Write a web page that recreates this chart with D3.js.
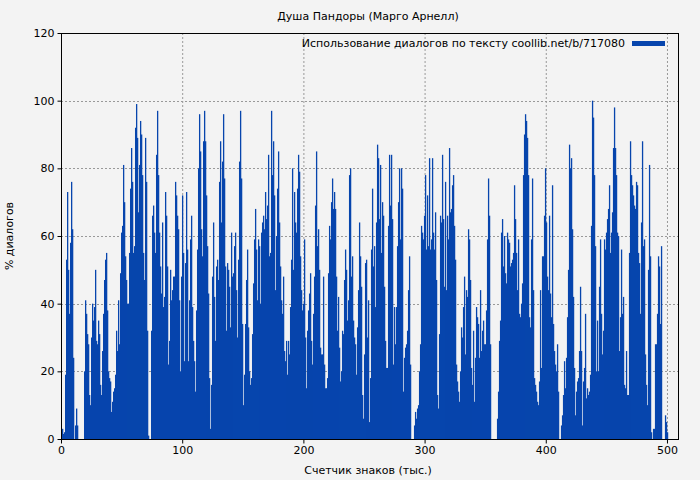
<!DOCTYPE html>
<html><head><meta charset="utf-8">
<script src="https://cdn.jsdelivr.net/npm/d3@7"></script>
<style>body{margin:0;background:#f3f3f3;font-family:"DejaVu Sans",sans-serif}</style>
</head><body><svg id="c" width="700" height="480"></svg>
<script>
const title = "Душа Пандоры (Марго Арнелл)";
const legendLabel = "Использование диалогов по тексту coollib.net/b/717080";
const xLabel = "Счетчик знаков (тыс.)";
const yLabel = "% диалогов";
const xTicks = [0,100,200,300,400,500];
const yTicks = [0,20,40,60,80,100,120];
const xStep = 0.825; // thousand chars per bar
const values = [3,3,1.5,2,19,53,73,50,37,58,76,62,24,0,4,9,4,0,0,0,0,0,0,
20,41,37,31,28,13,10,30,40,35,39,50,29,28,35,31,16,13,26,37,47,53,55,38,20,18,17,8,11,14,15,19,32,26,41,28,49,61,63,81,70,54,47,40,40,55,74,86,76,55,57,92,99,89,67,81,94,90,78,55,47,89,76,32,1,0,0,32,66,69,61,55,84,97,78,61,51,43,64,39,42,
73,66,51,22,29,50,41,44,48,48,76,72,66,62,41,20,48,72,55,23,52,73,56,23,41,59,66,39,29,23,14,38,56,80,96,85,62,54,88,97,88,72,57,43,18,3,16,48,64,42,29,51,53,47,76,88,64,82,96,77,51,32,52,50,45,33,61,48,49,57,61,44,30,53,82,97,77,34,10,19,34,47,56,33,20,16,18,31,46,59,68,56,41,59,57,40,61,64,66,62,73,65,
69,84,54,55,97,78,88,72,44,60,74,85,64,51,41,37,48,26,23,29,19,29,25,39,53,80,50,73,64,61,74,84,79,54,44,38,40,59,30,15,32,38,43,49,29,22,37,48,69,85,57,62,50,27,25,25,48,22,15,15,18,49,63,59,70,77,68,73,68,48,32,42,27,17,20,32,31,47,56,50,35,41,78,80,48,54,35,30,28,19,33,44,64,54,45,13,6,25,52,53,30,41,
5,18,56,74,51,57,39,64,87,83,65,81,55,70,66,45,29,21,21,63,84,69,84,65,22,39,28,39,57,70,80,59,80,74,14,24,27,28,32,44,54,22,0,0,0,4,8,6,9,10,20,28,63,61,59,66,78,56,72,57,83,56,59,83,61,56,67,47,13,9,31,66,64,84,65,45,76,44,66,59,86,67,68,75,78,63,53,22,17,14,11,20,33,30,39,48,25,44,42,62,59,47,
21,16,32,11,24,39,36,34,24,44,26,32,35,28,28,38,59,77,66,28,0,0,0,0,0,0,6,14,29,35,61,65,51,60,49,46,61,59,58,51,52,53,55,75,65,55,44,59,37,36,40,46,78,90,96,94,89,78,36,33,59,77,44,18,16,14,11,10,17,44,21,54,54,66,80,64,48,44,66,43,36,75,34,26,22,20,28,14,0,0,4,7,13,23,15,24,36,50,87,80,83,62,
42,21,7,14,17,18,26,45,26,4,17,21,37,12,15,13,14,19,63,100,95,78,57,20,35,20,45,59,37,25,32,59,56,61,65,68,75,55,61,67,86,98,86,78,61,60,26,36,56,37,42,16,15,26,13,13,55,88,78,75,72,69,68,76,75,55,52,37,64,88,57,59,25,16,10,50,81,54,2,0,3,3,28,28,37,54,51,34,57,0,0,0,7,5,2];

const svg = d3.select("#c");
const m = {l:61, r:678, t:33, b:439};
const x = d3.scaleLinear().domain([0, 509.1]).range([m.l, m.r]);
const y = d3.scaleLinear().domain([0, 120]).range([m.b, m.t]);

svg.append("rect").attr("x",m.l).attr("y",m.t).attr("width",m.r-m.l).attr("height",m.b-m.t).attr("fill","#f3f3f3");

const grid = svg.append("g").attr("stroke","#999").attr("stroke-dasharray","2,2").attr("stroke-width",1);
xTicks.forEach(t=>grid.append("line").attr("x1",x(t)+0.5).attr("x2",x(t)+0.5).attr("y1",m.t).attr("y2",m.b));
yTicks.forEach(t=>grid.append("line").attr("x1",m.l).attr("x2",m.r).attr("y1",Math.round(y(t))+0.5).attr("y2",Math.round(y(t))+0.5));

svg.append("g").selectAll("rect").data(values).join("rect")
  .attr("x",(d,i)=>x(i*xStep))
  .attr("width",x(xStep)-x(0)+0.3)
  .attr("y",d=>y(d))
  .attr("height",d=>y(0)-y(d))
  .attr("fill","#0745ad");

svg.append("rect").attr("x",m.l+0.5).attr("y",m.t+0.5).attr("width",m.r-m.l).attr("height",m.b-m.t)
  .attr("fill","none").attr("stroke","#000");

const ax = svg.append("g").attr("transform",`translate(0,${m.b+0.5})`)
  .call(d3.axisBottom(x).tickValues(xTicks).tickSize(4).tickPadding(3));
const ay = svg.append("g").attr("transform",`translate(${m.l+0.5},0)`)
  .call(d3.axisLeft(y).tickValues(yTicks).tickSize(4).tickPadding(3));
[ax,ay].forEach(a=>{a.select(".domain").remove();a.selectAll("text").attr("font-size",11).attr("font-family","DejaVu Sans").attr("fill","#000");});

svg.append("text").attr("x",368).attr("y",20).attr("text-anchor","middle").attr("font-size",11).text(title);
svg.append("text").attr("x",368).attr("y",474).attr("text-anchor","middle").attr("font-size",11).text(xLabel);
svg.append("text").attr("transform","translate(13,236) rotate(-90)").attr("text-anchor","middle").attr("font-size",11).text(yLabel);
svg.append("text").attr("x",625).attr("y",47).attr("text-anchor","end").attr("font-size",11).text(legendLabel);
svg.append("rect").attr("x",632).attr("y",41).attr("width",33).attr("height",5).attr("fill","#0745ad");
</script></body></html>
